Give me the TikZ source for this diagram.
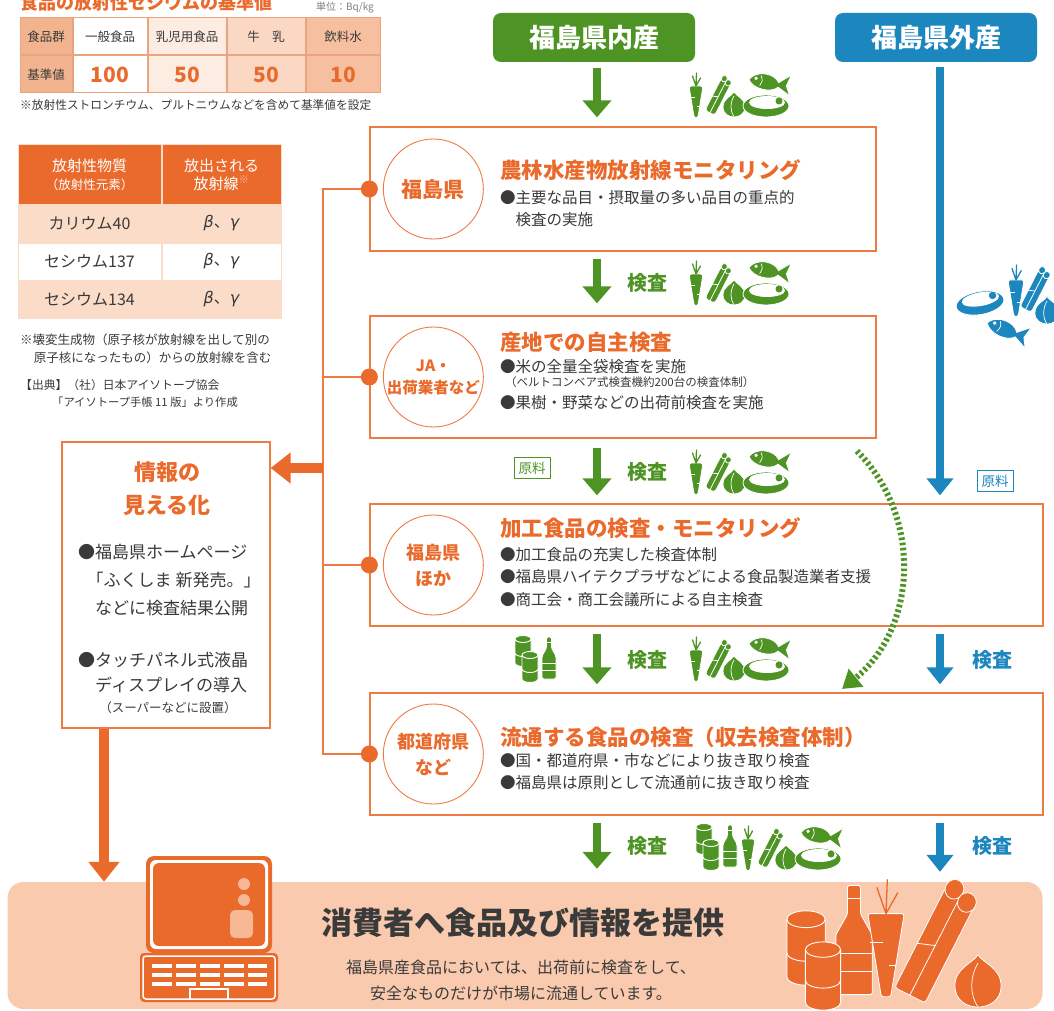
\documentclass[tikz,border=0pt]{standalone}
\usepackage{fontspec}
\setmainfont{Noto Sans CJK JP}
\newfontfamily\greekfont{DejaVu Sans}
\usepackage{tikz}
\usetikzlibrary{arrows.meta, positioning, calc}

\definecolor{corange}{HTML}{EA6A2C}
\definecolor{cline}{HTML}{EE7A45}
\definecolor{cgreen}{HTML}{4E9424}
\definecolor{cblue}{HTML}{1C86BE}
\definecolor{cpeach}{HTML}{F9CAAE}
\definecolor{ctext}{HTML}{3A3A3A}
\definecolor{tgrid}{HTML}{EAA47E}
\definecolor{tkey}{HTML}{F2B48E}
\definecolor{tcol3}{HTML}{FDECE1}
\definecolor{tcol4}{HTML}{FAD8C3}
\definecolor{tcol5}{HTML}{F6C0A0}
\definecolor{trow}{HTML}{FBDCC9}
\definecolor{figc}{HTML}{F6B894}

\newcommand{\betagamma}{{\greekfont\itshape β}、{\greekfont\itshape γ}}

% 食材アイコン
\tikzset{
  carrot/.pic={
    \filldraw[draw=white, line width=0.8pt, rounded corners=2.5pt] (-7,-14) -- (7,-14) -- (1.8,18) -- (-1.8,18) -- cycle;
    \draw[line width=1.3pt, line cap=round] (0,-14) -- (-3.5,-24) (0,-14) -- (0.5,-27) (0,-14) -- (4.5,-22);
    \draw[white, line width=0.9pt] (-6,-3) -- (-1,-3) (1,6) -- (4,6);
  },
  leek/.pic={
    \begin{scope}[rotate=63]
      \filldraw[draw=white, line width=0.8pt, rounded corners=3pt] (-20,-5.5) rectangle (16,5.5);
      \filldraw[draw=white, line width=0.8pt] (17,-2.7) ellipse [x radius=3.2, y radius=3];
      \filldraw[draw=white, line width=0.8pt] (15,2.8) ellipse [x radius=3.2, y radius=3];
      \draw[white, line width=0.8pt] (-20,0) -- (14,0);
      \draw[white, line width=0.8pt] (-4,-5.5) -- (-2,0);
    \end{scope}
  },
  onion/.pic={
    \filldraw[draw=white, line width=0.8pt] (0,-14) .. controls (2,-10) and (11,-8) .. (11,1)
      .. controls (11,8) and (5,11) .. (0,11) .. controls (-5,11) and (-11,8) .. (-11,1)
      .. controls (-11,-8) and (-2,-10) .. (0,-14) -- cycle;
    \draw[white, line width=0.7pt] (0,-10) .. controls (-4,-3) and (-4,5) .. (0,11);
  },
  steak/.pic={
    \filldraw[draw=white, line width=0.8pt] (0,0) ellipse [x radius=23, y radius=11];
    \fill[white] (1,-3.5) ellipse [x radius=18, y radius=6.5];
    \fill (13,-5) circle (3.5);
  },
  fish/.pic={
    \filldraw[draw=white, line width=0.8pt] (-15,0) .. controls (-10,-9) and (6,-9) .. (11,-1)
      -- (21,-9) -- (18,1) -- (22,9) -- (11,3) .. controls (6,9) and (-10,8) .. (-15,0) -- cycle;
    \fill[white] (-9,-2) circle (1.6);
    \draw[white, line width=0.7pt] (-5,-5) .. controls (-3,-1) .. (-5,4);
  },
  can/.pic={
    \filldraw[draw=white, line width=0.9pt] (-8,-12) -- (-8,12)
      arc[start angle=180, end angle=0, x radius=8, y radius=3.5]
      -- (8,-12) arc[start angle=0, end angle=-180, x radius=8, y radius=3.5] -- cycle;
    \draw[white, line width=0.9pt] (-8,-12) arc[start angle=180, end angle=0, x radius=8, y radius=3.5];
    \draw[white, line width=0.9pt] (-8,2) arc[start angle=180, end angle=0, x radius=8, y radius=3.5];
  },
  bottle/.pic={
    \filldraw[draw=white, line width=0.9pt, rounded corners=1.5pt] (-7,21) -- (-7,-2) -- (-2.5,-10)
      -- (-2.5,-21) -- (2.5,-21) -- (2.5,-10) -- (7,-2) -- (7,21) -- cycle;
    \draw[white, line width=0.9pt] (-7,5) -- (7,5) (-7,12) -- (7,12) (-2.5,-16) -- (2.5,-16);
  },
  vegs/.pic={
    \pic at (8,31) {carrot};
    \pic at (31,26) {leek};
    \pic at (46,37) {onion};
    \pic at (78,37) {steak};
    \pic[rotate=-8, scale=1.15] at (78,13) {fish};
  },
  cans/.pic={
    \pic at (10,17) {can};
    \pic at (36,24) {bottle};
    \pic at (17,33) {can};
  },
  laptop/.pic={
    \fill[rounded corners=8pt] (6,0) rectangle (132,97);
    \fill[white, rounded corners=6pt] (10,4) rectangle (128,93);
    \fill[rounded corners=6pt] (13,7) rectangle (125,90);
    \fill[figc] (104,28) circle (6);
    \fill[figc] (104,44) circle (6);
    \fill[figc, rounded corners=5pt] (90,54) rectangle (113,82);
    \fill[rounded corners=4pt] (0,97) rectangle (138,146);
    \draw[white, line width=1.5pt, rounded corners=3pt] (3,100) rectangle (135,143);
    \draw[white, line width=4pt, dash pattern=on 20pt off 4pt] (12,110) -- (127,110) (12,119) -- (127,119) (12,128) -- (127,128);
    \draw[white, line width=2pt] (50,143) -- (50,133) -- (88,133) -- (88,143);
  }
}

\begin{document}
\begin{tikzpicture}[x=1pt, y=-1pt,
    every node/.style={inner sep=0pt, text=ctext},
    srcbox/.style={draw=cline, line width=1.3pt, fill=white},
    circ/.style={circle, draw=cline, line width=0.9pt, minimum size=100pt, text=corange, align=center},
    ttl/.style={anchor=west, text=corange, font=\bfseries\fontsize{21.5}{24}\selectfont},
    body/.style={align=left, font=\fontsize{15.5}{22.5}\selectfont},
    hdr/.style={rounded corners=8pt, minimum width=202pt, minimum height=49pt, text=white, font=\bfseries\fontsize{26}{28}\selectfont},
    garrow/.style={draw=cgreen, line width=8pt, -{Triangle[length=17pt, width=28pt]}},
    barrow/.style={draw=cblue, line width=8pt, -{Triangle[length=17pt, width=26pt]}},
    oarrow/.style={draw=corange, line width=10pt, -{Triangle[length=20pt, width=30pt]}},
    oline/.style={draw=cline, line width=1.6pt},
    kensa/.style={font=\bfseries\fontsize{20}{22}\selectfont},
    genryo/.style={draw, line width=1pt, inner xsep=4.5pt, inner ysep=4pt, fill=white, font=\fontsize{13.5}{15}\selectfont},
    cell/.style={draw=tgrid, line width=1pt, minimum height=37pt, font=\fontsize{12.5}{14}\selectfont},
    val/.style={cell, text=corange, font=\bfseries\fontsize{21}{22}\selectfont},
    hcell/.style={draw=trow, line width=1pt, fill=corange, text=white, minimum height=59pt, align=center, font=\fontsize{15}{18}\selectfont},
    rcell/.style={draw=trow, line width=1pt, minimum height=37pt, font=\fontsize{16}{18}\selectfont},
    note/.style={anchor=west, font=\fontsize{12.5}{18}\selectfont}
  ]
  \useasboundingbox (0,0) rectangle (1054,1011);
  \fill[white] (0,0) rectangle (1054,1011);

  % 基準値の表
  \node[anchor=west, text=corange, font=\bfseries\fontsize{18}{20}\selectfont] (stdtitle) at (20,3) {食品の放射性セシウムの基準値};
  \node[anchor=east, text=gray, font=\fontsize{10}{12}\selectfont] (unit) at (374,8) {単位：Bq/kg};

  \node[cell, fill=tkey, minimum width=52pt] (grp) at (46,36.5) {食品群};
  \node[cell, fill=white, minimum width=74pt, right=0pt of grp] (gen) {一般食品};
  \node[cell, fill=tcol3, minimum width=78pt, right=0pt of gen] (baby) {乳児用食品};
  \node[cell, fill=tcol4, minimum width=78pt, right=0pt of baby] (milk) {牛\hspace{1em}乳};
  \node[cell, fill=tcol5, minimum width=74pt, right=0pt of milk] (water) {飲料水};
  \node[cell, fill=tkey, minimum width=52pt, below=0pt of grp] (std) {基準値};
  \node[val, fill=white, minimum width=74pt, right=0pt of std] (vgen) {100};
  \node[val, fill=tcol3, minimum width=78pt, right=0pt of vgen] (vbaby) {50};
  \node[val, fill=tcol4, minimum width=78pt, right=0pt of vbaby] (vmilk) {50};
  \node[val, fill=tcol5, minimum width=74pt, right=0pt of vmilk] (vwater) {10};
  \node[note, font=\fontsize{11.7}{14}\selectfont] (stdnote) at (20,105) {※放射性ストロンチウム、プルトニウムなどを含めて基準値を設定};

  % 放射性物質の表
  \node[hcell, minimum width=143pt] (subst) at (89.5,174.5) {放射性物質\\{\fontsize{12.5}{14}\selectfont（放射性元素）}};
  \node[hcell, minimum width=119pt, right=0pt of subst] (rays) {放出される\\放射線\textsuperscript{\color{white!55!corange}※}};
  \node[rcell, fill=trow, minimum width=143pt, below=0pt of subst] (k40) {カリウム40};
  \node[rcell, fill=trow, minimum width=119pt, right=0pt of k40] (k40r) {\betagamma};
  \node[rcell, fill=white, minimum width=143pt, below=0pt of k40] (cs137) {セシウム137};
  \node[rcell, fill=white, minimum width=119pt, right=0pt of cs137] (cs137r) {\betagamma};
  \node[rcell, fill=trow, minimum width=143pt, below=0pt of cs137] (cs134) {セシウム134};
  \node[rcell, fill=trow, minimum width=119pt, right=0pt of cs134] (cs134r) {\betagamma};
  \node[note, align=left] (raynote) at (20,349) {※壊変生成物（原子核が放射線を出して別の\\\hspace*{1.1em}原子核になったもの）からの放射線を含む};
  \node[note, font=\fontsize{11.8}{14}\selectfont] (src1) at (20,385) {【出典】（社）日本アイソトープ協会};
  \node[note, font=\fontsize{11.3}{14}\selectfont] (src2) at (52,402) {「アイソトープ手帳 11 版」より作成};

  % 産地
  \node[hdr, fill=cgreen] (inside) at (594,37.5) {福島県内産};
  \node[hdr, fill=cblue] (outside) at (936,37.5) {福島県外産};

  % 検査の流れ
  \node[srcbox, minimum width=506pt, minimum height=124pt] (b1) at (623,189) {};
  \node[srcbox, minimum width=506pt, minimum height=122pt] (b2) at (623,377) {};
  \node[srcbox, minimum width=673pt, minimum height=122pt] (b3) at (706.5,565) {};
  \node[srcbox, minimum width=673pt, minimum height=122pt] (b4) at (706.5,754) {};

  \node[circ, font=\bfseries\fontsize{21}{24}\selectfont] (c1) at ([xshift=64pt]b1.west) {福島県};
  \node[circ, font=\bfseries\fontsize{15.5}{22}\selectfont] (c2) at ([xshift=64pt]b2.west) {JA・\\出荷業者など};
  \node[circ, font=\bfseries\fontsize{18}{26}\selectfont] (c3) at ([xshift=64pt]b3.west) {福島県\\ほか};
  \node[circ, font=\bfseries\fontsize{18}{26}\selectfont] (c4) at ([xshift=64pt]b4.west) {都道府県\\など};

  \node[ttl] (t1) at (500,170) {農林水産物放射線モニタリング};
  \node[body, anchor=north west] (d1) at (500,190) {●主要な品目・摂取量の多い品目の重点的\\\hspace*{1em}検査の実施};
  \node[ttl] (t2) at (500,342) {産地での自主検査};
  \node[body, anchor=west] (d2a) at (500,367) {●米の全量全袋検査を実施};
  \node[anchor=west, font=\fontsize{11.5}{13}\selectfont] (d2n) at (505,382) {（ベルトコンベア式検査機約200台の検査体制）};
  \node[body, anchor=west] (d2b) at (500,403) {●果樹・野菜などの出荷前検査を実施};
  \node[ttl] (t3) at (500,528) {加工食品の検査・モニタリング};
  \node[body, anchor=north west] (d3) at (500,547) {●加工食品の充実した検査体制\\●福島県ハイテクプラザなどによる食品製造業者支援\\●商工会・商工会議所による自主検査};
  \node[ttl] (t4) at (500,737) {流通する食品の検査（収去検査体制）};
  \node[body, anchor=north west] (d4) at (500,753) {●国・都道府県・市などにより抜き取り検査\\●福島県は原則として流通前に抜き取り検査};

  % 消費者へ
  \node[fill=cpeach, rounded corners=16pt, minimum width=1035pt, minimum height=127pt] (panel) at (525,945.5) {};
  \node[font=\bfseries\fontsize{31}{34}\selectfont] (give) at (523,923) {消費者へ食品及び情報を提供};
  \node[align=center, font=\fontsize{16}{26}\selectfont] (givesub) at (521,980) {福島県産食品においては、出荷前に検査をして、\\安全なものだけが市場に流通しています。};

  % 矢印
  \coordinate (gx) at (597,0);
  \coordinate (bx) at (940,0);
  \draw[garrow, shorten <=6pt, shorten >=9pt] (inside.south -| gx) -- (b1.north -| gx);
  \draw[garrow, shorten <=7pt, shorten >=12pt] (b1.south -| gx) -- (b2.north -| gx);
  \draw[garrow, shorten <=9pt, shorten >=8pt] (b2.south -| gx) -- (b3.north -| gx);
  \draw[garrow, shorten <=7pt, shorten >=8pt] (b3.south -| gx) -- (b4.north -| gx);
  \draw[garrow, shorten <=7pt, shorten >=13pt] (b4.south -| gx) -- (panel.north -| gx);
  \draw[barrow, shorten <=5pt, shorten >=8pt] (outside.south -| bx) -- (b3.north -| bx);
  \draw[barrow, shorten <=7pt, shorten >=8pt] (b3.south -| bx) -- (b4.north -| bx);
  \draw[barrow, shorten <=7pt, shorten >=10pt] (b4.south -| bx) -- (panel.north -| bx);

  \node[kensa, text=cgreen] (k2) at (647,283) {検査};
  \node[kensa, text=cgreen] (k3) at (647,472) {検査};
  \node[kensa, text=cgreen] (k4) at (647,660) {検査};
  \node[kensa, text=cgreen] (k5) at (647,846) {検査};
  \node[kensa, text=cblue] (k4b) at (992,660) {検査};
  \node[kensa, text=cblue] (k5b) at (992,846) {検査};
  \node[genryo, draw=cgreen, text=cgreen] (raw1) at (532,468) {原料};
  \node[genryo, draw=cblue, text=cblue] (raw2) at (995,481) {原料};

  % 原料から流通へ
  \coordinate (arcfrom) at (857,451);
  \coordinate (arcto) at (842,689);
  \draw[cgreen, line width=6pt, dash pattern=on 2.6pt off 2.6pt, -{Triangle[length=18pt, width=22pt]}]
    (arcfrom) .. controls (925,520) and (915,630) .. (arcto);

  % 情報の見える化
  \coordinate (bus) at (323,468);
  \coordinate (drop) at (104,0);
  \node[srcbox, minimum width=208pt, minimum height=286pt] (info) at (166,585) {};
  \node[align=center, text=corange, font=\bfseries\fontsize{22}{33}\selectfont] (infottl) at (167,488.5) {情報の\\見える化};
  \node[anchor=north west, align=left, font=\fontsize{17}{28}\selectfont] (info1) at (78,543.5) {●福島県ホームページ\\\hspace*{0.5em}「ふくしま 新発売。」\\\hspace*{1em}などに検査結果公開};
  \node[anchor=north west, align=left, font=\fontsize{17}{25}\selectfont] (info2) at (78,651.5) {●タッチパネル式液晶\\\hspace*{1em}ディスプレイの導入};
  \node[font=\fontsize{12.5}{14}\selectfont] (info3) at (168,708) {（スーパーなどに設置）};

  \draw[oline] (b1.west) -| (bus |- b4.west) -- (b4.west);
  \draw[oline] (b2.west) -- (b2.west -| bus);
  \draw[oline] (b3.west) -- (b3.west -| bus);
  \fill[corange] (b1.west) circle (8.5);
  \fill[corange] (b2.west) circle (8.5);
  \fill[corange] (b3.west) circle (8.5);
  \fill[corange] (b4.west) circle (8.5);
  \draw[oarrow] (bus) -- (bus -| info.east);
  \draw[oarrow] (info.south -| drop) -- (panel.north -| drop);

  % アイコン
  \pic[color=cgreen] at (688,69) {vegs};
  \pic[color=cgreen] at (688,257) {vegs};
  \pic[color=cgreen] at (688,446) {vegs};
  \pic[color=cgreen] at (688,633) {vegs};
  \pic[color=cgreen] at (740,822) {vegs};
  \pic[color=cgreen] at (694,822) {cans};
  \pic[color=cgreen] at (513,634) {cans};

  \pic[color=cblue, rotate=10, scale=1.05] at (980,303) {steak};
  \pic[color=cblue, scale=1.15] at (1016,296) {carrot};
  \pic[color=cblue, scale=1.15] at (1036,289) {leek};
  \pic[color=cblue, scale=1.1] at (1047,312) {onion};
  \pic[color=cblue, rotate=-20, scale=1.2] at (1004,329) {fish};

  \pic[color=corange] at (140,856) {laptop};
  \pic[color=corange, scale=2.4] at (806,948) {can};
  \pic[color=corange, scale=2.6] at (854,940) {bottle};
  \pic[color=corange, scale=2.2] at (823,976) {can};
  \pic[color=corange, scale=2.6] at (886,950) {carrot};
  \pic[color=corange, scale=3.1] at (938,940) {leek};
  \pic[color=corange, scale=2.1] at (978,984) {onion};
\end{tikzpicture}
\end{document}
